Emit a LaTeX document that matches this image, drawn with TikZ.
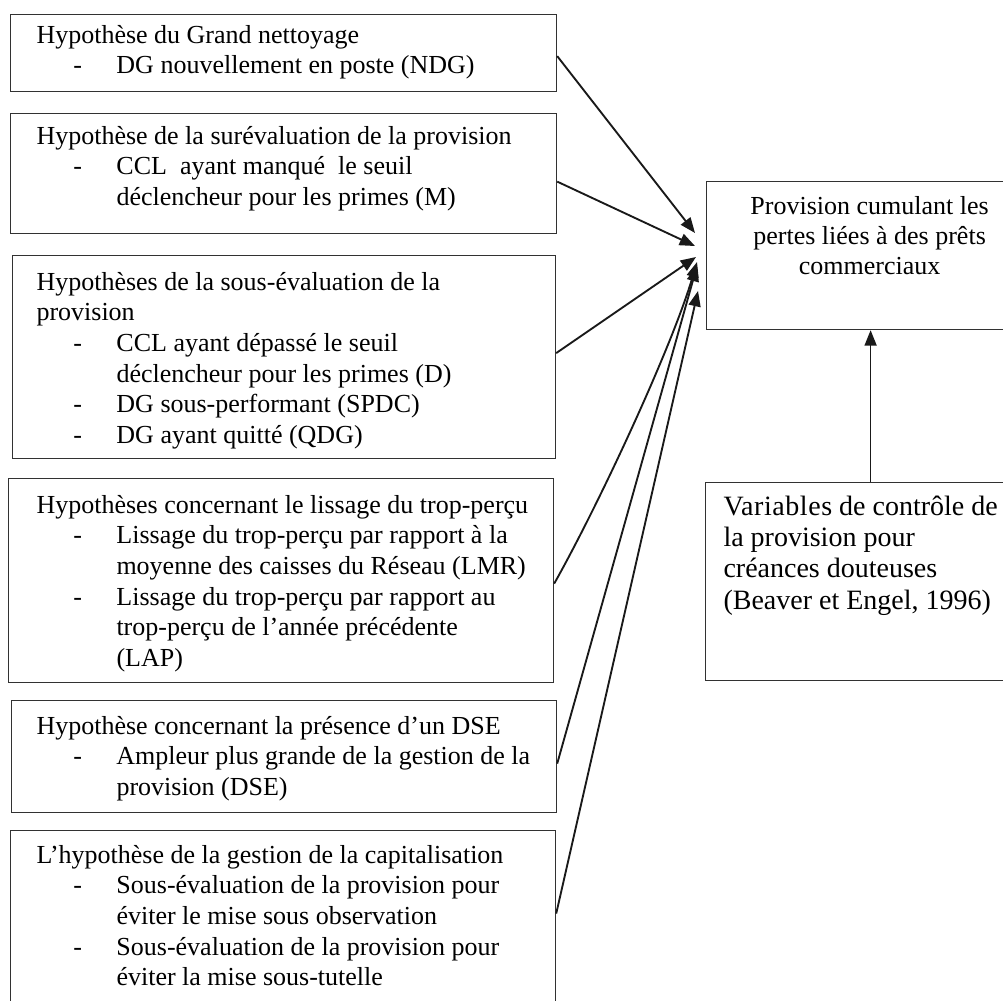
\documentclass[tikz,border=0pt]{standalone}
\usepackage{fontspec}
\setmainfont{Liberation Serif}
\usetikzlibrary{arrows.meta,positioning}

\newcommand\hypitem[1]{\par\hangindent=60pt\hangafter=1\noindent\hspace*{27.75pt}\makebox[32.25pt][l]{-}#1}

\tikzset{every picture/.style={line width=0.75pt}}
\tikzset{
  hypbox/.style={draw={rgb, 255:red, 50; green, 50; blue, 50}, line width=0.9pt, inner sep=0pt, anchor=north west},
  hyptext/.style={font=\fontsize{19.5}{23}\selectfont, inner sep=0pt, anchor=base west},
  restext/.style={font=\fontsize{21}{23.5}\selectfont, inner sep=0pt, anchor=base west},
  link/.style={color={rgb, 255:red, 25; green, 25; blue, 25}, line width=1.4pt, -{Triangle[length=11.5pt,width=9pt]}},
}

\begin{document}
\begin{tikzpicture}[x=0.75pt,y=0.75pt,yscale=-1,xscale=1]
\clip (0,0) rectangle (1003,1000);

%Shape: Rectangle
\node [hypbox, minimum width=409.5pt, minimum height=57.75pt] (h1) at (10,14) {};
%Shape: Rectangle
\node [hypbox, minimum width=409.5pt, minimum height=90pt] (h2) at (10,113) {};
%Shape: Rectangle
\node [hypbox, minimum width=407.25pt, minimum height=152.25pt] (h3) at (12,255) {};
%Shape: Rectangle
\node [hypbox, minimum width=408.75pt, minimum height=153pt] (h4) at (8,478) {};
%Shape: Rectangle
\node [hypbox, minimum width=408.75pt, minimum height=84pt] (h5) at (11,700) {};
%Shape: Rectangle
\node [hypbox, minimum width=408.75pt, minimum height=130.5pt] (h6) at (10,830) {};
%Shape: Rectangle
\node [hypbox, minimum width=247.5pt, minimum height=111pt] (r1) at (706,181) {};
%Shape: Rectangle
\node [hypbox, minimum width=247.5pt, minimum height=148.5pt] (r2) at (705,482) {};

% Text Node
\node [hyptext] (h1t) at ([shift={(26,29)}]h1.north west) {\parbox[t]{390pt}{Hypothèse du Grand nettoyage
\hypitem{DG nouvellement en poste (NDG)}}};
% Text Node
\node [hyptext] (h2t) at ([shift={(26,31)}]h2.north west) {\parbox[t]{390pt}{Hypothèse de la surévaluation de la provision
\hypitem{CCL~ ayant manqué~ le seuil\newline déclencheur pour les primes (M)}}};
% Text Node
\node [hyptext] (h3t) at ([shift={(24,35)}]h3.north west) {\parbox[t]{390pt}{Hypothèses de la sous-évaluation de la\newline provision
\hypitem{CCL ayant dépassé le seuil\newline déclencheur pour les primes (D)}
\hypitem{DG sous-performant (SPDC)}
\hypitem{DG ayant quitté (QDG)}}};
% Text Node
\node [hyptext] (h4t) at ([shift={(28,35)}]h4.north west) {\parbox[t]{390pt}{Hypothèses concernant le lissage du trop-perçu
\hypitem{Lissage du trop-perçu par rapport à la\newline moyenne des caisses du Réseau (LMR)}
\hypitem{Lissage du trop-perçu par rapport au\newline trop-perçu de l’année précédente\newline (LAP)}}};
% Text Node
\node [hyptext] (h5t) at ([shift={(25,34)}]h5.north west) {\parbox[t]{390pt}{Hypothèse concernant la présence d’un DSE
\hypitem{Ampleur plus grande de la gestion de la\newline provision (DSE)}}};
% Text Node
\node [hyptext] (h6t) at ([shift={(26,33)}]h6.north west) {\parbox[t]{390pt}{L’hypothèse de la gestion de la capitalisation
\hypitem{Sous-évaluation de la provision pour\newline éviter le mise sous observation}
\hypitem{Sous-évaluation de la provision pour\newline éviter la mise sous-tutelle}}};
% Text Node
\node [hyptext, anchor=base, font=\fontsize{19.5}{22.5}\selectfont] (r1t) at ([shift={(-2,33)}]r1.north) {\parbox[t]{240pt}{\centering Provision cumulant les\\ pertes liées à des prêts\\ commerciaux}};
% Text Node
\node [restext] (r2t) at ([shift={(18,33)}]r2.north west) {\parbox[t]{300pt}{{\addfontfeature{LetterSpace=2}Variables} de contrôle de\newline la provision pour\newline créances douteuses\newline (Beaver et Engel, 1996)}};

%Arrow tips
\coordinate (t1) at (695,233);
\coordinate (t2) at (695,246);
\coordinate (t3) at (696,257);
\coordinate (t4) at (697,262);
\coordinate (t5) at (697,266);
\coordinate (t6) at (698,291);

%Straight Lines
\draw [link] ([shift={(0,3)}]h1.east) -- (t1);
\draw [link] ([shift={(0,8)}]h2.east) -- (t2);
\draw [link] ([shift={(0,-4)}]h3.east) -- (t3);
%Curve Lines
\draw [link] ([shift={(0,3)}]h4.east) .. controls +(45,-80) and +(-25,85) .. (t4);
%Straight Lines
\draw [link] ([shift={(0,7)}]h5.east) -- (t5);
\draw [link] ([shift={(0,-4)}]h6.east) -- (t6);
\draw [link, line width=1pt] (r2.north) -- (r2.north |- r1.south);

\end{tikzpicture}
\end{document}
